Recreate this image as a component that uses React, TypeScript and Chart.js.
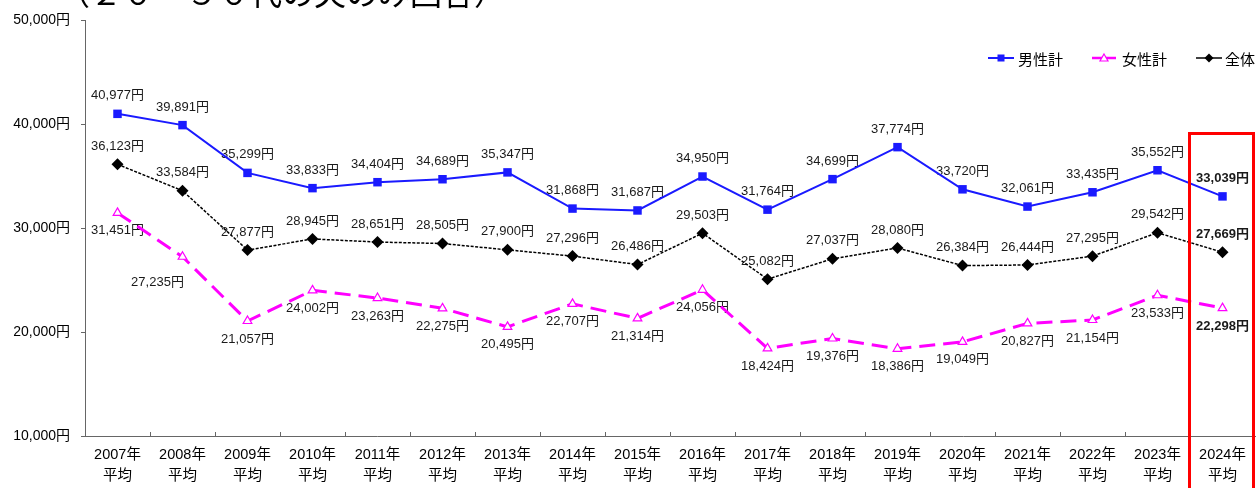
import React, { useEffect, useRef } from "react";
import { Chart, registerables } from "chart.js";
Chart.register(...registerables);

const years = ["2007", "2008", "2009", "2010", "2011", "2012", "2013", "2014", "2015", "2016", "2017", "2018", "2019", "2020", "2021", "2022", "2023", "2024"];
const categories = years.map((y) => [y + "年", "平均"]);
const maleTotal = [40977, 39891, 35299, 33833, 34404, 34689, 35347, 31868, 31687, 34950, 31764, 34699, 37774, 33720, 32061, 33435, 35552, 33039];
const femaleTotal = [31451, 27235, 21057, 24002, 23263, 22275, 20495, 22707, 21314, 24056, 18424, 19376, 18386, 19049, 20827, 21154, 23533, 22298];
const overall = [36123, 33584, 27877, 28945, 28651, 28505, 27900, 27296, 26486, 29503, 25082, 27037, 28080, 26384, 26444, 27295, 29542, 27669];
const seriesNames = ["男性計", "女性計", "全体"];
const yMin = 10000;
const yMax = 50000;
const yStep = 10000;
const titleText = "（２０～５０代の夫のみ回答）";

const CJK = "'Noto Sans CJK JP', 'Noto Sans', sans-serif";
const FONT = "'Liberation Sans', 'Noto Sans CJK JP', sans-serif";
const fmt = (v: number) => v.toLocaleString("en-US") + "円";

// label placement: -1 above, +1 below
const labelSide = [-1, 1, -1];
// special offsets [datasetIndex][pointIndex] => [dx, dy]
const labelOffsets: Record<number, Record<number, [number, number]>> = {
  1: { 1: [-25, 26] },
};

const overlay = {
  id: "overlay",
  beforeDatasetsDraw(chart: any) {
    const ctx = chart.ctx;
    ctx.save();
    ctx.textAlign = "center";
    ctx.textBaseline = "middle";
    ctx.fillStyle = "#1a1a1a";
    chart.data.datasets.forEach((ds: any, di: number) => {
      const meta = chart.getDatasetMeta(di);
      meta.data.forEach((pt: any, i: number) => {
        const v = ds.data[i];
        const last = i === ds.data.length - 1;
        ctx.font = `${last ? "bold " : ""}13px ${FONT}`;
        let dx = 0;
        let dy = labelSide[di] * 18;
        const off = labelOffsets[di] && labelOffsets[di][i];
        if (off) {
          dx = off[0];
          dy = off[1];
        }
        ctx.fillText(fmt(v), pt.x + dx, pt.y + dy);
      });
    });
    ctx.restore();
  },
  afterDraw(chart: any) {
    const ctx = chart.ctx;
    const xs = chart.scales.x;
    const n = categories.length;
    const step = (xs.right - xs.left) / n;
    ctx.save();
    // x tick marks (pointing up, at category boundaries)
    ctx.strokeStyle = "#666";
    ctx.lineWidth = 1;
    for (let i = 1; i < n; i++) {
      const x = Math.round(xs.left + i * step) + 0.5;
      ctx.beginPath();
      ctx.moveTo(x, xs.top);
      ctx.lineTo(x, xs.top - 4);
      ctx.stroke();
    }
    // title (partially cut off at the top)
    ctx.fillStyle = "#000";
    ctx.font = `32px ${CJK}`;
    ctx.textAlign = "left";
    ctx.textBaseline = "alphabetic";
    ctx.fillText(titleText, 58, 5);

    // legend
    const ly = 58;
    ctx.font = `15px ${CJK}`;
    ctx.textBaseline = "middle";
    const items = [
      { x0: 988, x1: 1014, color: "#1a1aff", w: 2, marker: "rect", text: seriesNames[0], tx: 1018 },
      { x0: 1092, x1: 1116, color: "#ff00ff", w: 2.5, marker: "tri", text: seriesNames[1], tx: 1122 },
      { x0: 1196, x1: 1222, color: "#000", w: 1.5, marker: "dia", text: seriesNames[2], tx: 1225 },
    ];
    items.forEach((it) => {
      ctx.strokeStyle = it.color;
      ctx.lineWidth = it.w;
      ctx.setLineDash([]);
      ctx.beginPath();
      ctx.moveTo(it.x0, ly);
      ctx.lineTo(it.x1, ly);
      ctx.stroke();
      const cx = (it.x0 + it.x1) / 2;
      if (it.marker === "rect") {
        ctx.fillStyle = it.color;
        ctx.fillRect(cx - 3.5, ly - 3.5, 7, 7);
      } else if (it.marker === "tri") {
        ctx.fillStyle = "#fff";
        ctx.lineWidth = 1.2;
        ctx.beginPath();
        ctx.moveTo(cx, ly - 4);
        ctx.lineTo(cx + 4, ly + 3);
        ctx.lineTo(cx - 4, ly + 3);
        ctx.closePath();
        ctx.fill();
        ctx.stroke();
      } else {
        ctx.fillStyle = it.color;
        ctx.beginPath();
        ctx.moveTo(cx, ly - 4.5);
        ctx.lineTo(cx + 4.5, ly);
        ctx.lineTo(cx, ly + 4.5);
        ctx.lineTo(cx - 4.5, ly);
        ctx.closePath();
        ctx.fill();
      }
      ctx.fillStyle = "#000";
      ctx.fillText(it.text, it.tx, ly + 1);
    });

    // red highlight box around last category
    const lx = xs.getPixelForValue(n - 1);
    ctx.strokeStyle = "#ff0000";
    ctx.lineWidth = 3;
    ctx.strokeRect(lx - 33, 133.5, 64, 400);
    ctx.restore();
  },
};

export default function App() {
  const ref = useRef<HTMLCanvasElement | null>(null);
  useEffect(() => {
    if (!ref.current) return;
    const chart = new Chart(ref.current, {
      type: "line",
      data: {
        labels: categories,
        datasets: [
          {
            label: seriesNames[0],
            data: maleTotal,
            borderColor: "#1a1aff",
            backgroundColor: "#1a1aff",
            borderWidth: 2,
            pointStyle: "rect",
            pointRadius: 6,
            pointBorderWidth: 0,
            tension: 0,
          },
          {
            label: seriesNames[1],
            data: femaleTotal,
            borderColor: "#ff00ff",
            backgroundColor: "#ffffff",
            borderWidth: 3,
            borderDash: [16, 8],
            pointStyle: "triangle",
            pointRadius: 5,
            pointBorderWidth: 1.2,
            pointBorderColor: "#ff00ff",
            pointBackgroundColor: "#ffffff",
            tension: 0,
          },
          {
            label: seriesNames[2],
            data: overall,
            borderColor: "#000000",
            backgroundColor: "#000000",
            borderWidth: 1.5,
            borderDash: [3, 1.5],
            pointStyle: "rectRot",
            pointRadius: 6,
            pointBorderWidth: 0,
            tension: 0,
          },
        ],
      },
      options: {
        responsive: false,
        animation: false,
        layout: { autoPadding: false, padding: { top: 20, right: 3, left: 0, bottom: 0 } },
        plugins: {
          legend: { display: false },
          tooltip: { enabled: false },
          title: { display: false },
        },
        scales: {
          x: {
            type: "category",
            offset: true,
            grid: { display: false, drawTicks: false },
            border: { display: true, color: "#666", width: 1 },
            ticks: {
              color: "#000",
              font: { family: FONT, size: 14.5, lineHeight: 1.45 },
              padding: 8,
              maxRotation: 0,
              autoSkip: false,
            },
            afterFit: (s: any) => {
              s.height = 52;
              s.paddingLeft = 0;
              s.paddingRight = 0;
            },
          },
          y: {
            min: yMin,
            max: yMax,
            grid: { drawOnChartArea: false, drawTicks: true, tickLength: 4, color: "#666" },
            border: { display: true, color: "#666", width: 1 },
            ticks: {
              stepSize: yStep,
              color: "#000",
              padding: 11,
              font: { family: FONT, size: 14 },
              callback: (v: any) => fmt(Number(v)),
            },
            afterFit: (s: any) => {
              s.width = 85;
            },
          },
        },
      },
      plugins: [overlay],
    });
    return () => chart.destroy();
  }, []);
  return (
    <div style={{ position: "fixed", left: 0, top: 0, width: 1258, height: 488, background: "#fff" }}>
      <canvas ref={ref} width={1258} height={488} style={{ width: 1258, height: 488, display: "block" }} />
    </div>
  );
}
